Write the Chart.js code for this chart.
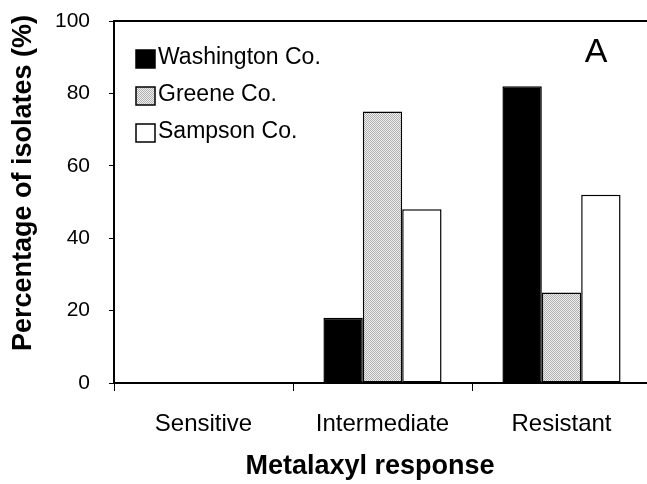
<!DOCTYPE html>
<html>
<head>
<meta charset="utf-8">
<script src="https://cdn.jsdelivr.net/npm/chart.js@4"></script>
<style>
  html, body { margin: 0; padding: 0; background: #fff; overflow: hidden; }
  #wrap { width: 660px; height: 484px; }
</style>
</head>
<body>
<div id="wrap"><canvas id="chart" width="660" height="484"></canvas></div>
<script>
// Data
const categories = ['Sensitive', 'Intermediate', 'Resistant'];
const seriesNames = ['Washington Co.', 'Greene Co.', 'Sampson Co.'];
const washington = [0, 18, 82];
const greene = [0, 75, 25];
const sampson = [0, 48, 52];
const yTicks = [0, 20, 40, 60, 80, 100];

const FONT = "'Liberation Sans', Arial, sans-serif";

// Dotted grey fill for Greene Co.
function makeDots() {
  const c = document.createElement('canvas');
  c.width = 2; c.height = 2;
  const g = c.getContext('2d');
  g.fillStyle = '#efefef';
  g.fillRect(0, 0, 2, 2);
  g.fillStyle = '#b0b0b0';
  g.fillRect(0, 0, 1, 1);
  g.fillRect(1, 1, 1, 1);
  return g.createPattern(c, 'repeat');
}
const dots = makeDots();

// Top border, inside legend, panel letter and axis titles
const extras = {
  id: 'extras',
  afterDraw(chart) {
    const ctx = chart.ctx;
    const area = chart.chartArea;
    ctx.save();

    // top frame line
    ctx.strokeStyle = '#000';
    ctx.lineWidth = 2;
    ctx.beginPath();
    ctx.moveTo(area.left - 1, area.top);
    ctx.lineTo(chart.width, area.top);
    ctx.stroke();

    // legend
    ctx.font = '23px ' + FONT;
    ctx.textBaseline = 'middle';
    ctx.textAlign = 'left';
    chart.data.datasets.forEach((ds, i) => {
      const y = 50 + i * 37;
      ctx.fillStyle = ds.backgroundColor;
      ctx.fillRect(136, y, 19, 18);
      ctx.lineWidth = 1.5;
      ctx.strokeStyle = '#000';
      ctx.strokeRect(136, y, 19, 18);
      ctx.fillStyle = '#000';
      ctx.fillText(ds.label, 158, y + 8);
    });

    // panel letter
    ctx.font = '34px ' + FONT;
    ctx.textAlign = 'center';
    ctx.fillText('A', 596, 53);

    // x title
    ctx.font = 'bold 27px ' + FONT;
    ctx.fillText('Metalaxyl response', 370, 467);

    // y title
    ctx.translate(24, 183);
    ctx.rotate(-Math.PI / 2);
    ctx.font = 'bold 27px ' + FONT;
    ctx.fillText('Percentage of isolates (%)', 0, 0);

    ctx.restore();
  }
};

new Chart(document.getElementById('chart'), {
  type: 'bar',
  data: {
    labels: categories,
    datasets: [
      { label: seriesNames[0], data: washington, backgroundColor: '#000000' },
      { label: seriesNames[1], data: greene, backgroundColor: dots },
      { label: seriesNames[2], data: sampson, backgroundColor: '#ffffff' }
    ]
  },
  options: {
    responsive: false,
    animation: false,
    devicePixelRatio: 1,
    layout: { padding: { top: 21, right: 9, left: 0, bottom: 0 } },
    datasets: {
      bar: {
        borderColor: '#000',
        borderWidth: 1.5,
        borderSkipped: false,
        categoryPercentage: 0.66,
        barPercentage: 1
      }
    },
    plugins: {
      legend: { display: false },
      tooltip: { enabled: false }
    },
    scales: {
      x: {
        afterFit: s => { s.height = 101; s.paddingLeft = 0; s.paddingRight = 0; },
        grid: { drawOnChartArea: false, color: '#000', tickLength: 8, lineWidth: 1 },
        border: { color: '#000', width: 2 },
        ticks: { color: '#000', font: { family: FONT, size: 24 }, padding: 19, maxRotation: 0, autoSkip: false }
      },
      y: {
        min: 0,
        max: 100,
        afterFit: s => { s.width = 114; s.paddingTop = 0; s.paddingBottom = 0; },
        afterBuildTicks: s => { s.ticks = yTicks.map(v => ({ value: v })); },
        grid: { drawOnChartArea: false, color: '#000', tickLength: 5, lineWidth: 1 },
        border: { color: '#000', width: 2 },
        ticks: { color: '#000', font: { family: FONT, size: 21 }, padding: 19 }
      }
    }
  },
  plugins: [extras]
});
</script>
</body>
</html>
